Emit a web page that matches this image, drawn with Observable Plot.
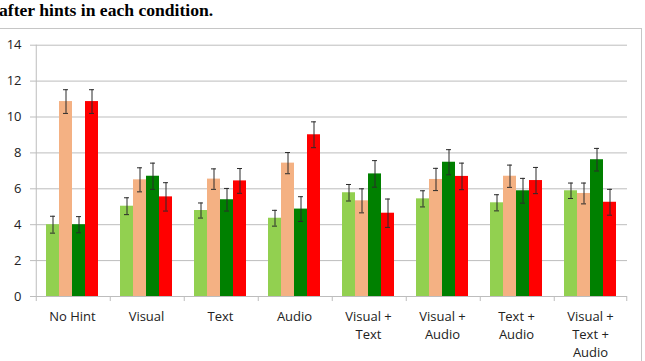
<!DOCTYPE html>
<html>
<head>
<meta charset="utf-8">
<script src="https://cdn.jsdelivr.net/npm/d3@7"></script>
<script src="https://cdn.jsdelivr.net/npm/@observablehq/plot@0.6"></script>
<style>
  html, body { margin: 0; padding: 0; background: #fff; }
  body { position: relative; width: 645px; height: 361px; overflow: hidden; }
  #title { position: absolute; left: -1px; top: 2px; font-family: "Liberation Serif", "Times New Roman", serif; font-weight: bold; font-size: 17.6px; line-height: 17px; color: #000; white-space: nowrap; }
  #frame { position: absolute; left: 0; top: 28px; width: 641px; height: 340px; border-top: 1px solid #c6c6c6; border-right: 1px solid #c6c6c6; }
  #frame svg { display: block; }
</style>
</head>
<body>
<div id="title">after hints in each condition.</div>
<div id="frame"></div>
<script>
const conditions = ["No Hint", "Visual", "Text", "Audio", "Visual + Text", "Visual + Audio", "Text + Audio", "Visual + Text + Audio"];
const tickLabels = ["No Hint", "Visual", "Text", "Audio", "Visual +\nText", "Visual +\nAudio", "Text +\nAudio", "Visual +\nText +\nAudio"];
const seriesNames = ["Series 1", "Series 2", "Series 3", "Series 4"];
const seriesColors = ["#92D050", "#F4B183", "#008000", "#FF0000"];

const series1 = [4.0, 5.03, 4.79, 4.36, 5.78, 5.44, 5.22, 5.89];
const series2 = [10.86, 6.5, 6.54, 7.43, 5.33, 6.52, 6.70, 5.74];
const series3 = [4.0, 6.70, 5.39, 4.87, 6.83, 7.48, 5.89, 7.62];
const series4 = [10.86, 5.55, 6.44, 9.01, 4.64, 6.69, 6.46, 5.25];

const error1 = [0.47, 0.47, 0.42, 0.44, 0.46, 0.45, 0.45, 0.43];
const error2 = [0.66, 0.67, 0.57, 0.59, 0.67, 0.62, 0.62, 0.58];
const error3 = [0.45, 0.73, 0.63, 0.69, 0.74, 0.70, 0.69, 0.63];
const error4 = [0.66, 0.79, 0.69, 0.72, 0.79, 0.74, 0.73, 0.72];

const yTicks = [0, 2, 4, 6, 8, 10, 12, 14];

const values = [series1, series2, series3, series4];
const errors = [error1, error2, error3, error4];
const rows = [];
conditions.forEach((c, i) => {
  seriesNames.forEach((s, j) => {
    rows.push({condition: c, series: s, value: values[j][i], err: errors[j][i]});
  });
});
const labelOf = new Map(conditions.map((c, i) => [c, tickLabels[i]]));

const edge = 16.75; // half bar + outer padding, used to reach the facet boundary
const chart = Plot.plot({
  width: 641,
  height: 332,
  marginTop: 15.7,
  marginBottom: 65,
  marginLeft: 35,
  marginRight: 14,
  style: {fontFamily: "'Open Sans', sans-serif", fontSize: "13px", background: "#fff"},
  fx: {domain: conditions, padding: 0, label: null},
  x: {domain: seriesNames, paddingInner: 0, paddingOuter: 0.74, axis: null},
  y: {domain: [0, 14], label: null},
  color: {domain: seriesNames, range: seriesColors},
  marks: [
    Plot.gridY(yTicks, {stroke: "#bdbdbd", strokeOpacity: 1}),
    Plot.ruleY([0], {stroke: "#bdbdbd"}),
    Plot.ruleX(conditions, {fx: d => d, x: () => seriesNames[0], y1: 0, y2: -0.28, dx: -edge, stroke: "#bdbdbd"}),
    Plot.ruleX([conditions[conditions.length - 1]], {fx: d => d, x: () => seriesNames[3], y1: 0, y2: -0.28, dx: edge, stroke: "#bdbdbd"}),
    Plot.ruleX([conditions[0]], {fx: d => d, x: () => seriesNames[0], y1: 0, y2: 14, dx: -edge, stroke: "#bdbdbd"}),
    Plot.barY(rows, {fx: "condition", x: "series", y: "value", fill: "series"}),
    Plot.ruleX(rows, {fx: "condition", x: "series", y1: d => d.value - d.err, y2: d => d.value + d.err, stroke: "#2b2b2b", strokeWidth: 1}),
    Plot.tickY(rows, {fx: "condition", x: "series", y: d => d.value - d.err, stroke: "#2b2b2b", strokeWidth: 1, insetLeft: 4, insetRight: 4}),
    Plot.tickY(rows, {fx: "condition", x: "series", y: d => d.value + d.err, stroke: "#2b2b2b", strokeWidth: 1, insetLeft: 4, insetRight: 4}),
    Plot.axisY({ticks: yTicks, tickSize: 5, tickPadding: 9, stroke: "#bdbdbd", fill: "#222", fontSize: 13, label: null, tickFormat: d => String(d)}),
    Plot.axisFx({anchor: "bottom", tickSize: 0, tickPadding: 12.5, fontSize: 13, lineHeight: 1.35, fill: "#222", label: null, tickFormat: d => labelOf.get(d)})
  ]
});
document.getElementById("frame").appendChild(chart);
</script>
</body>
</html>
